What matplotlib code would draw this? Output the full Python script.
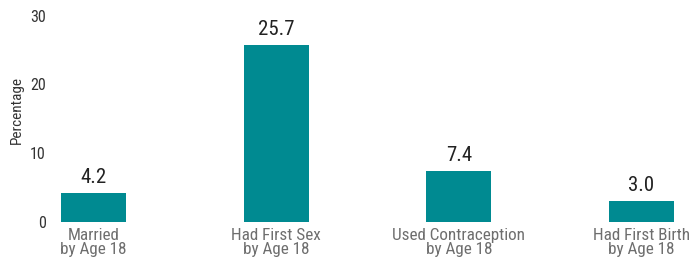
import matplotlib
matplotlib.use("Agg")
import matplotlib.pyplot as plt
from matplotlib import font_manager

categories = ["Married\nby Age 18", "Had First Sex\nby Age 18",
              "Used Contraception\nby Age 18", "Had First Birth\nby Age 18"]
values = [4.2, 25.7, 7.4, 3.0]
value_labels = ["4.2", "25.7", "7.4", "3.0"]
yticks = [0, 10, 20, 30]

names = {f.name for f in font_manager.fontManager.ttflist}
fam = "DejaVu Sans"
for cand in ["Roboto Condensed", "Barlow Condensed", "Archivo Narrow", "Asap Condensed"]:
    if cand in names:
        fam = cand
        break
plt.rcParams["font.family"] = [fam, "DejaVu Sans"]

fig = plt.figure(figsize=(6.89, 2.64), dpi=100)
L, R = 50 / 689, 689 / 689
B, T = (264 - 222) / 264, (264 - 10) / 264
ax = fig.add_axes([L, B, R - L, T - B])

bar_color = "#008A91"
x = list(range(len(values)))
ax.bar(x, values, width=0.356, color=bar_color)
for xi, v, lab in zip(x, values, value_labels):
    ax.text(xi, v + 0.9, lab, ha="center", va="bottom", fontsize=15, color="#222222")

ax.set_xlim(-0.238, 3.26)
ax.set_ylim(0, 30.8)
ax.set_yticks(yticks)
ax.set_yticklabels([str(t) for t in yticks], fontsize=11.5, color="#333333")
ax.set_xticks(x)
ax.set_xticklabels(categories, fontsize=12.3, color="#6e6e6e", linespacing=0.95)
ax.tick_params(axis="both", length=0)
ax.tick_params(axis="y", pad=3)
ax.tick_params(axis="x", pad=4)
for s in ax.spines.values():
    s.set_visible(False)
ax.set_ylabel("Percentage", fontsize=11, color="#333333")
ax.yaxis.set_label_coords(-0.041, 0.53)

fig.savefig("out.png", dpi=100)
